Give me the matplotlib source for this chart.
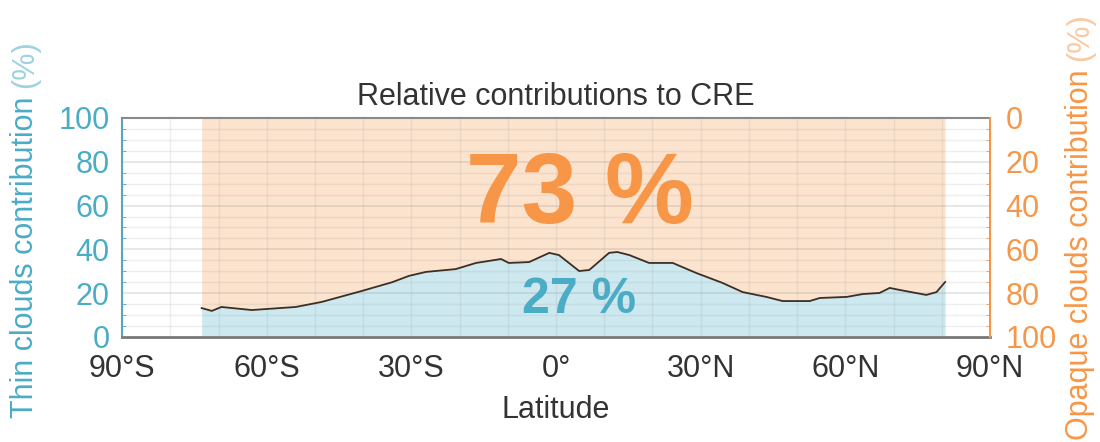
import numpy as np
import matplotlib
matplotlib.use("Agg")
from matplotlib import pyplot as plt

plt.rcParams['font.family'] = ['Liberation Sans', 'DejaVu Sans']

# latitude (deg) and thin-cloud contribution (%)
lat = [-73.5, -71.4, -69.4, -63.1, -54.0, -48.6, -40.3, -34.0, -30.5, -27.0,
       -20.8, -16.6, -11.4, -9.8, -5.6, -1.4, 0.6, 4.8, 6.9, 11.0,
       12.7, 15.2, 19.3, 24.2, 29.1, 34.5, 38.7, 43.6, 47.0, 52.6,
       54.7, 60.3, 63.6, 67.1, 69.2, 71.2, 76.8, 78.9, 80.7]
thin = [13.2, 11.9, 13.7, 12.3, 13.7, 16.0, 21.0, 25.0, 27.9, 29.7,
        31.0, 33.8, 35.6, 33.8, 34.2, 38.4, 37.4, 30.1, 30.6, 38.4,
        38.8, 37.4, 33.8, 33.8, 29.2, 24.7, 20.5, 18.3, 16.4, 16.4,
        17.8, 18.3, 19.6, 20.1, 22.4, 21.5, 19.2, 20.5, 25.1]

xticks = [-90, -60, -30, 0, 30, 60, 90]
xlabels = ['90°S', '60°S', '30°S', '0°', '30°N', '60°N', '90°N']
thin_pct = '27 %'
opaque_pct = '73 %'

teal = '#4BACC6'
orange = '#F79646'
teal_light = '#9FD2E0'
orange_light = '#FAC9A0'
fs = 22

fig = plt.figure(figsize=(11, 4.42), dpi=100)
ax = fig.add_axes([0.111, 0.2376, 0.789, 0.4955])

ax.fill_between(lat, 0, thin, color='#CDE8EF', lw=0, zorder=1)
ax.fill_between(lat, thin, 100, color='#FCE3CE', lw=0, zorder=1)
ax.plot(lat, thin, color='#3a2e25', lw=1.3, zorder=4)

ax.set_xlim(-90, 90)
ax.set_ylim(0, 100)
ax.set_xticks(xticks)
ax.set_xticklabels(xlabels)
ax.set_xticks(np.arange(-90, 91, 10), minor=True)
ax.set_yticks(np.arange(0, 101, 20))
ax.set_yticks(np.arange(0, 101, 5), minor=True)
ax.grid(which='minor', color='#999999', alpha=0.16, lw=1, zorder=2)
ax.grid(which='major', axis='y', color='#999999', alpha=0.28, lw=1.2, zorder=2)
ax.grid(which='major', axis='x', color='#999999', alpha=0.16, lw=1, zorder=2)
ax.set_axisbelow(False)

ax.tick_params(axis='x', which='both', length=0, labelsize=fs, colors='#333333', pad=12)
ax.tick_params(axis='y', which='major', length=0, labelsize=fs, labelcolor=teal, pad=9)
ax.tick_params(axis='y', which='minor', length=3, color=teal, direction='in')

ax.spines['left'].set_color(teal)
ax.spines['left'].set_linewidth(1.5)
ax.spines['top'].set_color('#888888')
ax.spines['top'].set_linewidth(1.5)
ax.spines['bottom'].set_color('#777777')
ax.spines['bottom'].set_linewidth(2)
ax.spines['right'].set_visible(False)

ax2 = ax.twinx()
ax2.set_ylim(100, 0)
ax2.set_yticks(np.arange(0, 101, 20))
ax2.set_yticks(np.arange(0, 101, 5), minor=True)
ax2.tick_params(axis='y', which='major', length=0, labelsize=fs, labelcolor=orange, pad=11)
ax2.tick_params(axis='y', which='minor', length=3, color=orange, direction='in')
for s in ['left', 'top', 'bottom']:
    ax2.spines[s].set_visible(False)
ax2.spines['right'].set_color(orange)
ax2.spines['right'].set_linewidth(1.5)

ax.set_title('Relative contributions to CRE', fontsize=fs, color='#333333', pad=9)
ax.set_xlabel('Latitude', fontsize=fs, color='#333333', labelpad=8)

# two-tone axis labels: main part, then "(%)" right after it
fig.canvas.draw()
r = fig.canvas.get_renderer()
for x, y0, txt, c1, c2 in [(0.023, 0.054, 'Thin clouds contribution ', teal, teal_light),
                           (0.982, 0.004, 'Opaque clouds contribution ', orange, orange_light)]:
    t = fig.text(x, y0, txt, rotation=90, fontsize=fs, color=c1,
                 ha='center', va='bottom')
    bb = t.get_window_extent(renderer=r)
    y1 = fig.transFigure.inverted().transform((0, bb.y1))[1]
    fig.text(x, y1, '(%)', rotation=90, fontsize=fs, color=c2,
             ha='center', va='bottom')

ax.text(5.0, 64, opaque_pct, fontsize=72, fontweight='bold', color=orange,
        ha='center', va='center', zorder=5)
ax.text(4.8, 17, thin_pct, fontsize=36, fontweight='bold', color=teal,
        ha='center', va='center', zorder=5)

plt.savefig('out.png', dpi=100)
